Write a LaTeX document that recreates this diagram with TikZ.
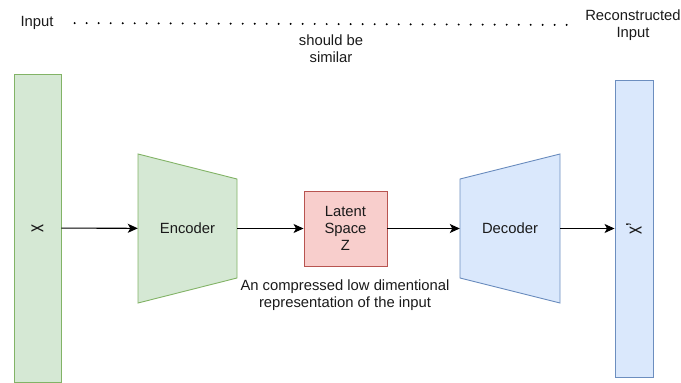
\documentclass[tikz,border=0pt]{standalone}
\usepackage{fontspec}
\setmainfont{Liberation Sans}
\usetikzlibrary{arrows.meta, positioning}
\definecolor{cgreenfill}{HTML}{D5E8D4}
\definecolor{cgreenline}{HTML}{82B366}
\definecolor{cbluefill}{HTML}{DAE8FC}
\definecolor{cblueline}{HTML}{6C8EBF}
\definecolor{credfill}{HTML}{F8CECC}
\definecolor{credline}{HTML}{B85450}
\definecolor{ctext}{HTML}{1A1A1A}

\begin{document}
\begin{tikzpicture}[
  x=1pt, y=-1pt,
  font=\fontsize{14.8}{17}\selectfont,
  inputbar/.style={
    rectangle, draw=cgreenline, fill=cgreenfill, line width=0.9pt,
    minimum width=47pt, minimum height=308pt, inner sep=0pt
  },
  outputbar/.style={
    rectangle, draw=cblueline, fill=cbluefill, line width=0.9pt,
    minimum width=38pt, minimum height=297pt, inner sep=0pt
  },
  latentbox/.style={
    rectangle, draw=credline, fill=credfill, line width=0.9pt,
    minimum width=83pt, minimum height=75pt, inner sep=0pt,
    align=center, text=ctext
  },
  netblock/.style={
    rectangle, minimum width=99pt, minimum height=149pt, inner sep=0pt,
    text=ctext
  },
  veclabel/.style={
    text=ctext, rotate=90, yscale=1.4, font=\fontsize{16}{18}\selectfont
  },
  caption/.style={text=ctext, align=center, inner sep=1pt},
  flowarrow/.style={
    -{Stealth[length=10pt, width=9pt, inset=2.5pt]}, line width=1.1pt, draw=black
  },
  simline/.style={
    line width=2.2pt, line cap=round, dash pattern=on 0pt off 12pt
  }
]
\useasboundingbox (0,0) rectangle (681,383);

% ============================================================
% Input and reconstructed input vectors
% ============================================================
\node[inputbar] (xin) at (37.5, 228) {};
\node[veclabel] at (xin.center) {x};

\node[outputbar] (xout) at (634, 228.5) {};
\node[veclabel] at (xout.center) {x'};

% ============================================================
% Encoder / decoder trapezoids
% ============================================================
\draw[draw=cgreenline, fill=cgreenfill, line width=0.9pt]
  (138,154) -- (237,179) -- (237,278) -- (138,303) -- cycle;
\node[netblock] (enc) at (187.5, 228.5) {Encoder};

\draw[draw=cblueline, fill=cbluefill, line width=0.9pt]
  (460,179) -- (560,154) -- (560,303) -- (460,278) -- cycle;
\node[netblock, minimum width=100pt] (dec) at (510, 228.5) {Decoder};

% Latent code between them
\node[latentbox] (lat) at (345.5, 228.5) {Latent\\Space\\Z};

% ============================================================
% Data flow
% ============================================================
\draw[flowarrow] (xin) -- (enc);
\draw[flowarrow] (enc) -- (lat);
\draw[flowarrow] (lat) -- (dec);
\draw[flowarrow] (dec) -- (xout);

% Notes
\node[caption] (latnote) at (345, 295)
  {An compressed low dimentional\\representation of the input};

% ============================================================
% Top row: input vs. reconstruction
% ============================================================
\node[caption] (inp) at (37, 23) {Input};
\node[caption] (rec) at (633, 25) {Reconstructed\\Input};
\draw[simline, shorten <=20pt, shorten >=14pt] (inp.east) -- (rec.west);
\node[caption] (simnote) at (331, 49) {should be\\similar};

\end{tikzpicture}
\end{document}
